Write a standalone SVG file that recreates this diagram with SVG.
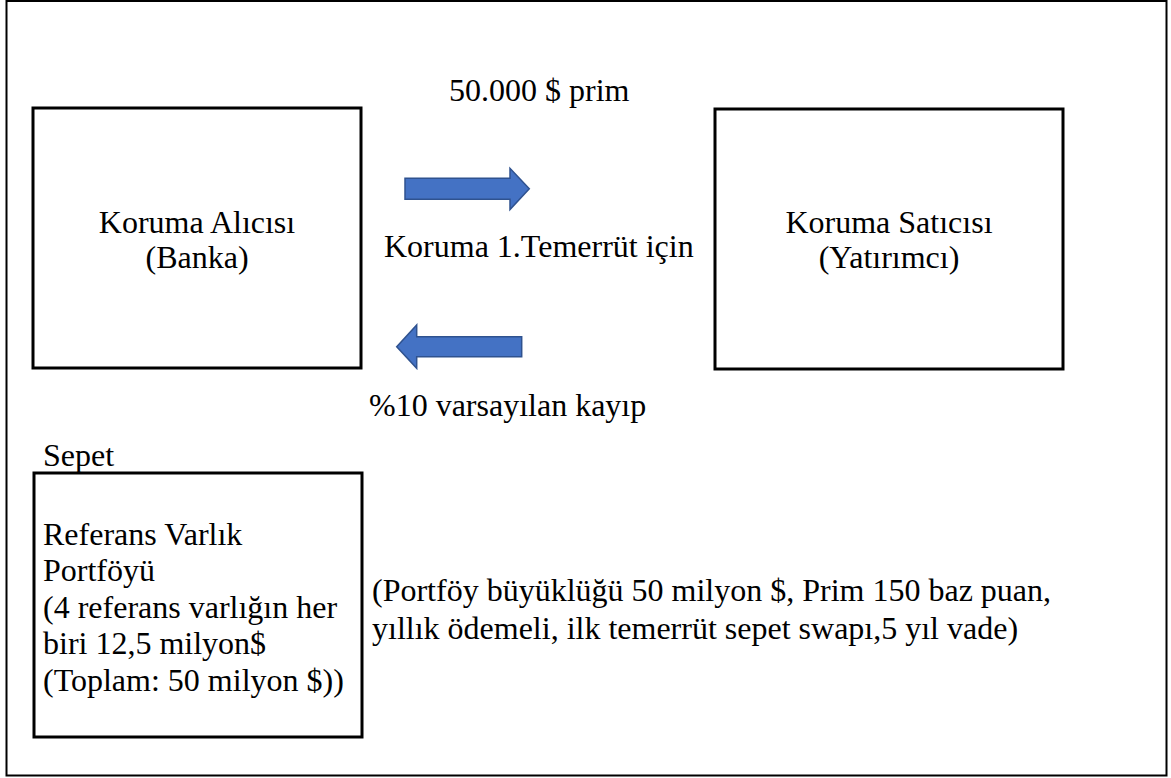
<svg xmlns="http://www.w3.org/2000/svg" width="1171" height="778" viewBox="0 0 1171 778">
<style>
.t{font-family:"Liberation Serif","Times New Roman",serif;font-size:32px;fill:#000}
.box{fill:#fff;stroke:#000;stroke-width:3}
.arr{fill:#4472C4;stroke:#2F528F;stroke-width:1.5;stroke-linejoin:miter}
</style>
<rect x="6.5" y="1" width="1160" height="774.5" fill="#fff" stroke="#000" stroke-width="2"/>
<g id="buyer">
<rect class="box" x="33" y="108" width="328" height="260"/>
<text class="t" x="197" y="233" text-anchor="middle">Koruma Alıcısı</text>
<text class="t" x="197" y="268" text-anchor="middle">(Banka)</text>
</g>
<g id="seller">
<rect class="box" x="715" y="109" width="348" height="260"/>
<text class="t" x="889" y="233" text-anchor="middle">Koruma Satıcısı</text>
<text class="t" x="889" y="268" text-anchor="middle">(Yatırımcı)</text>
</g>
<g id="basket">
<text class="t" x="43" y="466">Sepet</text>
<rect class="box" x="34" y="473" width="328" height="264"/>
<text class="t" x="43" y="544.5">Referans Varlık</text>
<text class="t" x="43" y="581">Portföyü</text>
<text class="t" x="43" y="617.5">(4 referans varlığın her</text>
<text class="t" x="43" y="654">biri 12,5 milyon$</text>
<text class="t" x="43" y="690.5">(Toplam: 50 milyon $))</text>
</g>
<g id="connectors">
<path class="arr" d="M405,178.3 L510,178.3 L510,168.3 L529.3,188.8 L510,209.5 L510,199.3 L405,199.3 Z"/>
<path class="arr" d="M521.7,336.7 L416.7,336.7 L416.7,325 L396.7,346.7 L416.7,368.3 L416.7,356.7 L521.7,356.7 Z"/>
<text class="t" x="449" y="101">50.000 $ prim</text>
<text class="t" x="384" y="257">Koruma 1.Temerrüt için</text>
<text class="t" x="369" y="416">%10 varsayılan kayıp</text>
</g>
<g id="note">
<text class="t" x="372" y="601">(Portföy büyüklüğü 50 milyon $, Prim 150 baz puan,</text>
<text class="t" x="372" y="639">yıllık ödemeli, ilk temerrüt sepet swapı,5 yıl vade)</text>
</g>
</svg>
